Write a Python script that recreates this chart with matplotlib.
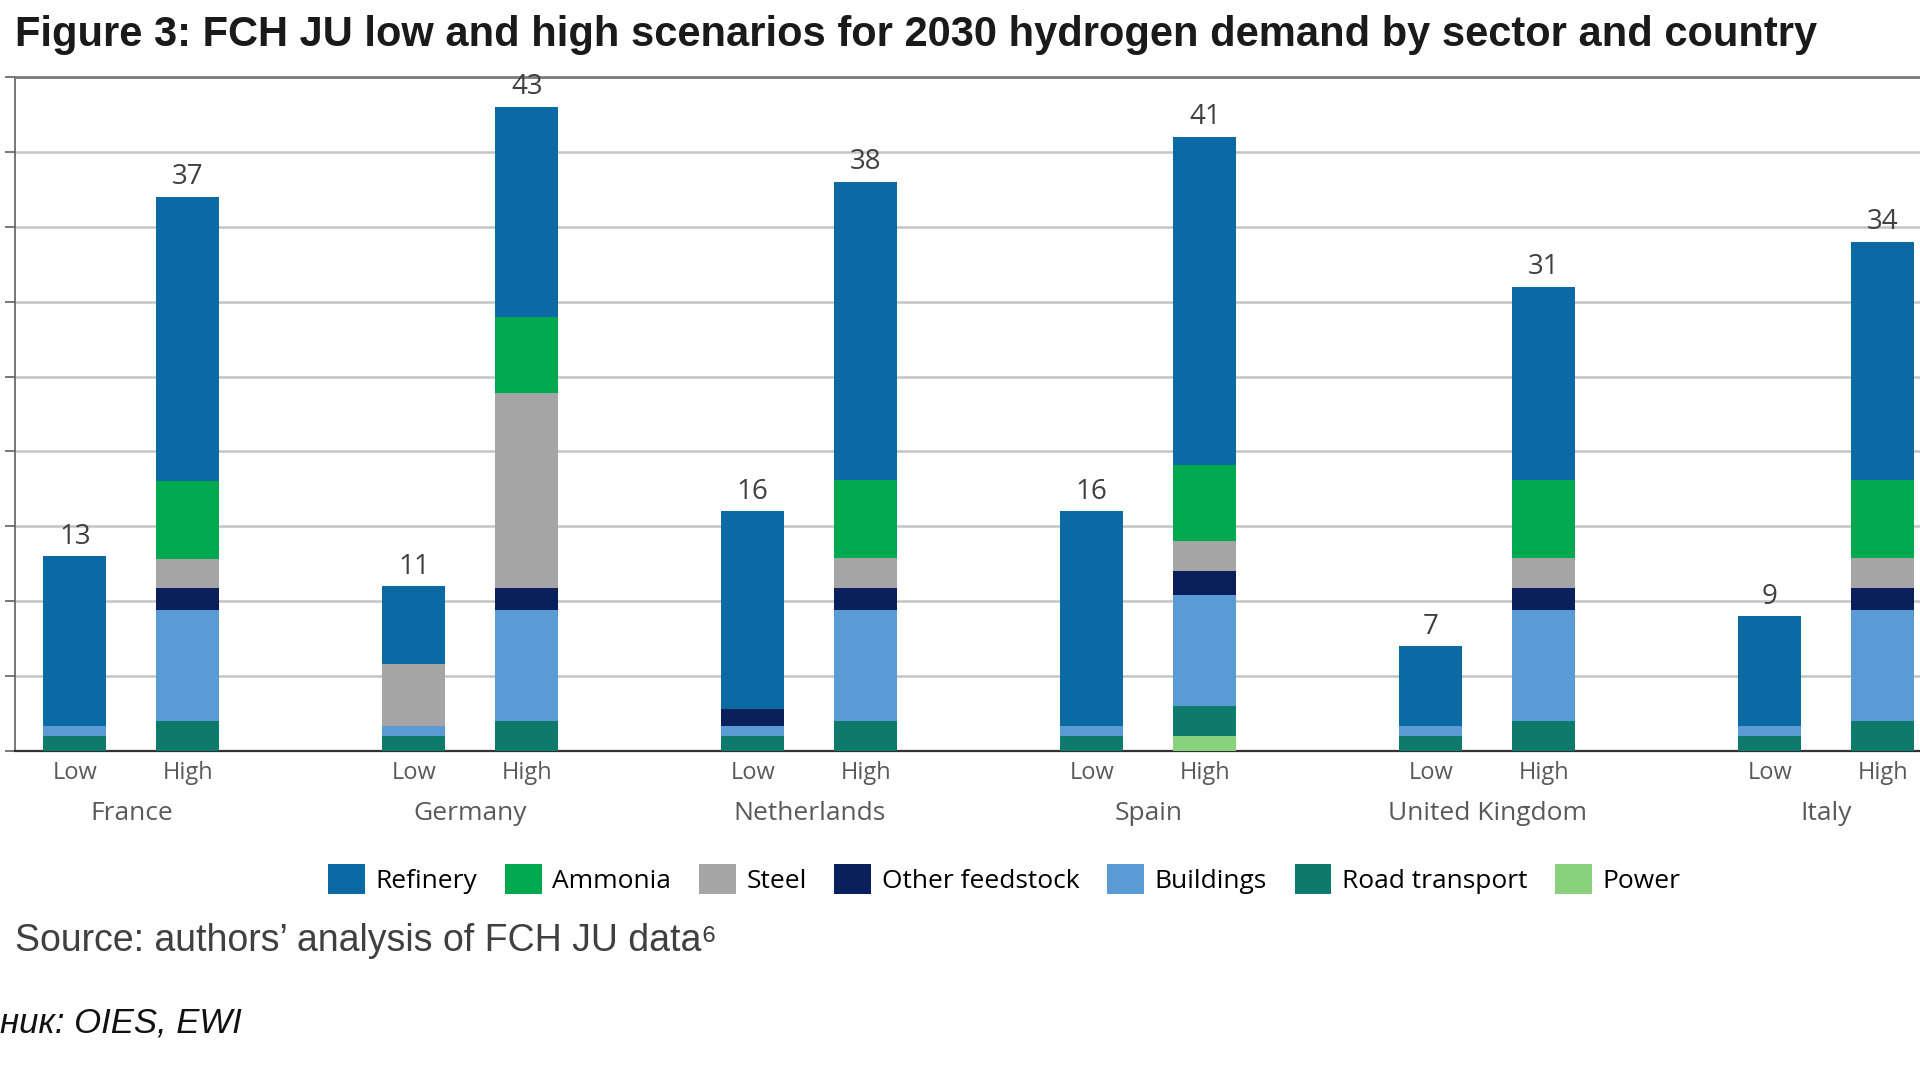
import matplotlib.pyplot as plt
from matplotlib.patches import Patch
import numpy as np

countries = ["France", "Germany", "Netherlands", "Spain", "United Kingdom", "Italy"]
scenarios = ["Low", "High"]
sectors = ["Refinery", "Ammonia", "Steel", "Other feedstock", "Buildings",
           "Road transport", "Power"]
colors = ["#0b6aa4", "#00a84f", "#a5a5a5", "#0a1f5c", "#5b9bd5", "#0e7a6b", "#8ad17d"]

# one value per bar: France Low, France High, Germany Low, Germany High, ...
refinery = [11.3, 19.0, 5.2, 14.0, 13.2, 19.9, 14.3, 21.9, 5.3, 12.9, 7.3, 15.9]
ammonia = [0, 5.2, 0, 5.1, 0, 5.2, 0, 5.1, 0, 5.2, 0, 5.2]
steel = [0, 1.9, 4.1, 13.0, 0, 2.0, 0, 2.0, 0, 2.0, 0, 2.0]
other_feedstock = [0, 1.5, 0, 1.5, 1.1, 1.5, 0, 1.6, 0, 1.5, 0, 1.5]
buildings = [0.7, 7.4, 0.7, 7.4, 0.7, 7.4, 0.7, 7.4, 0.7, 7.4, 0.7, 7.4]
road_transport = [1.0, 2.0, 1.0, 2.0, 1.0, 2.0, 1.0, 2.0, 1.0, 2.0, 1.0, 2.0]
power = [0, 0, 0, 0, 0, 0, 0, 1.0, 0, 0, 0, 0]

series = {
    "Refinery": refinery,
    "Ammonia": ammonia,
    "Steel": steel,
    "Other feedstock": other_feedstock,
    "Buildings": buildings,
    "Road transport": road_transport,
    "Power": power,
}
color_of = dict(zip(sectors, colors))

label_font = ["Open Sans", "DejaVu Sans"]

fig = plt.figure(figsize=(19.2, 10.8), dpi=100)
ax = fig.add_axes([0.0078, 0.3046, 0.9922, 0.6241])

group_x = np.arange(len(countries)) * 3
x = np.ravel([[g, g + 1] for g in group_x])
width = 0.56

bottom = np.zeros(len(x))
for name in reversed(sectors):
    vals = np.array(series[name], dtype=float)
    ax.bar(x, vals, width, bottom=bottom, color=color_of[name], zorder=3, linewidth=0)
    bottom += vals

for xi, total in zip(x, bottom):
    ax.annotate(f"{total:.0f}", (xi, total), xytext=(0, 4), textcoords="offset points",
                ha="center", va="bottom", fontsize=20, color="#404040", family=label_font)

ax.set_xlim(-0.53, 16.33)
ax.set_ylim(0, 45)
ax.set_yticks(np.arange(0, 46, 5))
ax.set_yticklabels([])
ax.yaxis.grid(True, color="#c4c4c4", linewidth=1.8, zorder=0)
ax.set_axisbelow(True)
ax.tick_params(axis="y", direction="out", length=7, width=1.2, color="#606060")

ax.set_xticks(x)
ax.set_xticklabels(scenarios * len(countries), fontsize=17, color="#595959", family=label_font)
ax.tick_params(axis="x", length=0, pad=7)

for g, name in zip(group_x, countries):
    ax.annotate(name, (g + 0.5, 0), xycoords=("data", "axes fraction"),
                xytext=(0, -45), textcoords="offset points", ha="center", va="center",
                fontsize=19, color="#595959", family=label_font)

ax.spines["right"].set_visible(False)
ax.spines["top"].set_color("#7a7a7a")
ax.spines["top"].set_linewidth(2)
ax.spines["left"].set_color("#606060")
ax.spines["left"].set_linewidth(1.2)
ax.spines["bottom"].set_color("#303030")
ax.spines["bottom"].set_linewidth(1.6)

handles = [Patch(facecolor=color_of[s], label=s) for s in sectors]
fig.legend(handles=handles, loc="center", bbox_to_anchor=(0.523, 0.186), ncol=7,
           frameon=False, handlelength=1.4, handleheight=1.4,
           columnspacing=1.05, handletextpad=0.4,
           prop={"family": label_font, "size": 19})

fig.text(0.0078, 0.968, "Figure 3: FCH JU low and high scenarios for 2030 hydrogen demand by sector and country",
         fontsize=30, fontweight="bold", color="#1a1a1a", va="center", ha="left",
         family=["Liberation Sans", "DejaVu Sans"])
fig.text(0.0078, 0.129, "Source: authors\u2019 analysis of FCH JU data\u2076",
         fontsize=27, color="#404040", va="center", ha="left",
         family=["Liberation Sans", "DejaVu Sans"])
fig.text(0.0, 0.053, "ник: OIES, EWI", fontsize=25, style="italic", color="#111111",
         va="center", ha="left", family=["Liberation Sans", "DejaVu Sans"])

fig.savefig("out.png", dpi=100, facecolor="white")
